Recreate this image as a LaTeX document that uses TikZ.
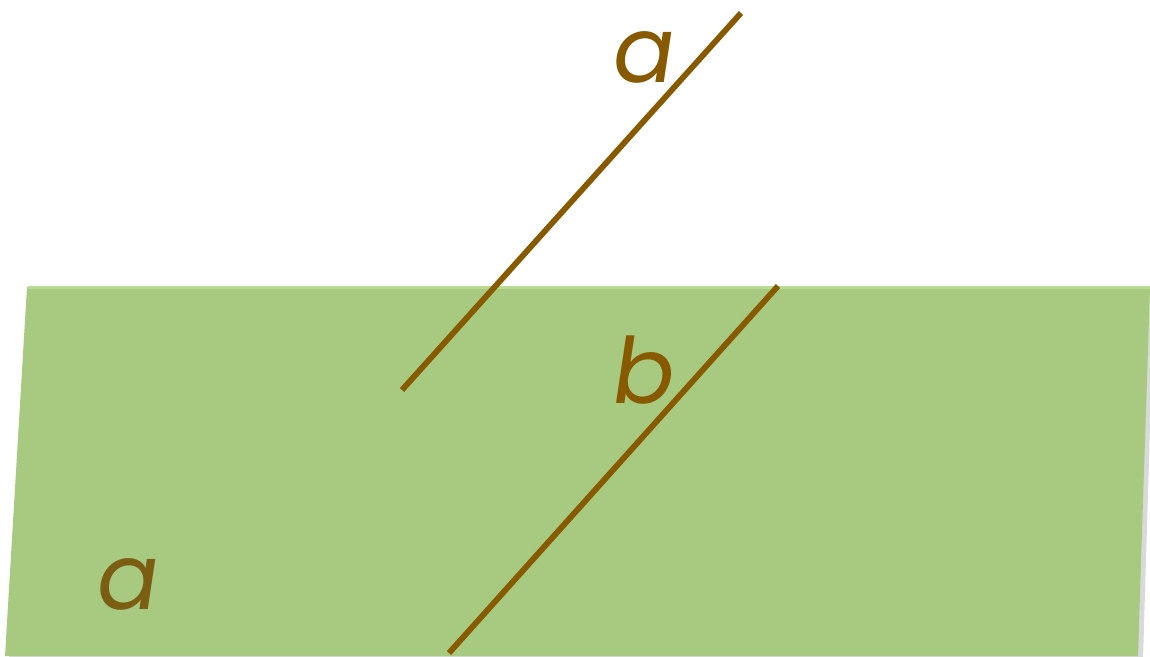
\documentclass[tikz,border=0pt]{standalone}
\usepackage{fontspec}
\setsansfont{Poppins}[FakeSlant=0.15]
\usepackage{tikz}
\usetikzlibrary{positioning,calc}

\definecolor{planegreen}{HTML}{A7CA80}
\definecolor{planeedge}{HTML}{B9DA92}
\definecolor{linebrown}{HTML}{875A00}
\definecolor{labelbrown}{HTML}{7B5E12}

\begin{document}
\begin{tikzpicture}[x=0.01cm, y=-0.01cm,
    seg/.style={linebrown, line width=1.65pt},
    lbl/.style={font=\sffamily\fontsize{26}{26}\selectfont, inner sep=0pt}
]
    \useasboundingbox (0,0) rectangle (1150,656);

    % plane with a soft shadow on the right
    \fill[black!15] (31,292) -- (1154,292) -- (1143,660) -- (9,660) -- cycle;
    \fill[planegreen] (27,287) -- (1150,287) -- (1138,656) -- (5,656) -- cycle;
    \draw[planeedge, line width=1pt] (28,287.5) -- (1150,287.5);

    % lines
    \coordinate (atop) at (741,13);
    \coordinate (abot) at (402,390);
    \coordinate (btop) at (778,286);
    \coordinate (bbot) at (449,653);
    \draw[seg] (atop) -- (abot);
    \draw[seg] (btop) -- (bbot);

    % labels
    \node[lbl, text=linebrown] (la) at (640,57) {a};
    \node[lbl, text=linebrown] (lb) at (640,370) {b};
    \node[lbl, text=labelbrown] (lalpha) at (124,584) {a};
\end{tikzpicture}
\end{document}
